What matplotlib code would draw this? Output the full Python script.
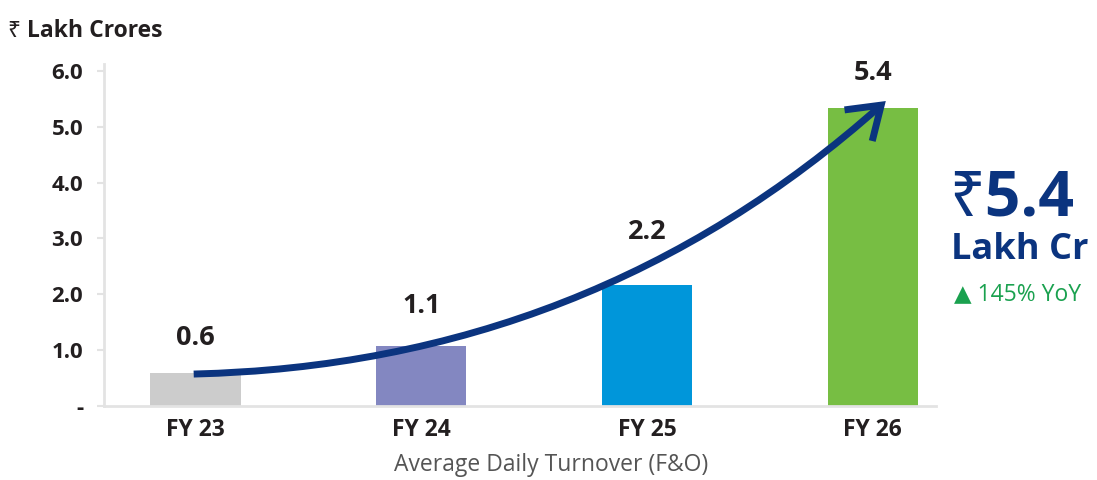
import matplotlib.pyplot as plt
from matplotlib.patches import FancyArrowPatch

plt.rcParams['font.family'] = ['Open Sans', 'Noto Sans', 'DejaVu Sans']

# data
years = ['FY 23', 'FY 24', 'FY 25', 'FY 26']
turnover = [0.58, 1.07, 2.16, 5.34]
labels = ['0.6', '1.1', '2.2', '5.4']
colors = ['#CCCCCC', '#8387C1', '#0096DA', '#77BE43']
yticks = [0, 1, 2, 3, 4, 5, 6]
ytick_labels = ['-', '1.0', '2.0', '3.0', '4.0', '5.0', '6.0']

navy = '#0B347F'
dark = '#231F20'
grid = '#E3E3E3'


def main():
    fig = plt.figure(figsize=(10.97, 4.8), dpi=100)
    ax = fig.add_axes([0.0948, 0.155, 0.7584, 0.7115])

    x = range(len(years))
    ax.bar(x, turnover, width=0.40, color=colors, zorder=2)

    # value labels, FY 25 sits a bit higher to clear the arrow
    extra = [0, 0.08, 0.32, 0]
    for i, (v, lab) in enumerate(zip(turnover, labels)):
        ax.text(i, v + 0.63 + extra[i], lab, ha='center', va='center',
                fontsize=19.5, fontweight='bold', color=dark)

    ax.set_xlim(-0.405, 3.28)
    ax.set_ylim(0, 6.13)
    ax.set_yticks(yticks)
    ax.set_yticklabels(ytick_labels, fontsize=16, fontweight='bold', color=dark)
    ax.set_xticks(list(x))
    ax.set_xticklabels(years, fontsize=16.5, fontweight='bold', color=dark)
    ax.tick_params(axis='y', length=5, width=1.5, color=grid, pad=10)
    ax.tick_params(axis='x', length=0, pad=9)
    for s in ['top', 'right']:
        ax.spines[s].set_visible(False)
    for s in ['left', 'bottom']:
        ax.spines[s].set_color(grid)
        ax.spines[s].set_linewidth(2)
    ax.set_xlabel('Average Daily Turnover (F&O)', fontsize=16.5, color='#555555')
    ax.xaxis.set_label_coords(0.537, -0.138)

    # growth arrow
    arrow = FancyArrowPatch((-0.02, 0.565), (3.067, 5.50),
                            connectionstyle='arc3,rad=0.185',
                            arrowstyle='->,head_length=1.1,head_width=0.75',
                            mutation_scale=20, color=navy, lw=5,
                            capstyle='butt', joinstyle='miter', zorder=3)
    ax.add_patch(arrow)

    fig.text(0.007, 0.935, '\u20b9 Lakh Crores', fontsize=16.5, fontweight='bold',
             color=dark, va='center')

    fig.text(0.865, 0.585, '\u20b95.4', fontsize=45, fontweight='bold',
             color=navy, va='center')
    fig.text(0.867, 0.480, 'Lakh Cr', fontsize=26, fontweight='bold',
             color=navy, va='center')
    fig.text(0.870, 0.388, '\u25b2 145% YoY', fontsize=16.5,
             color='#1AA14F', va='center')

    fig.savefig('out.png', dpi=100)


if __name__ == '__main__':
    main()
